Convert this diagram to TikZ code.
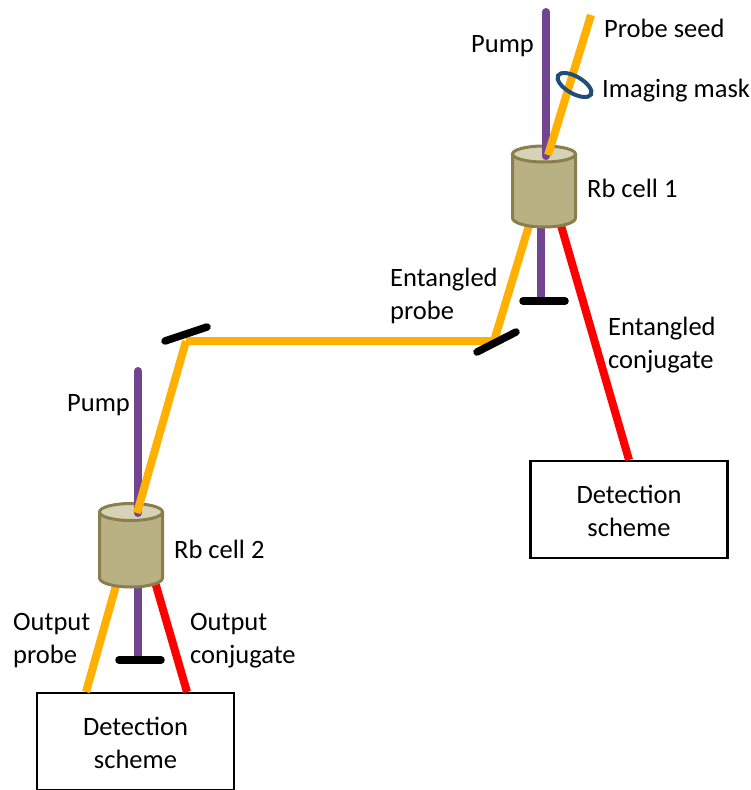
\documentclass[tikz,border=0pt]{standalone}
\usepackage{fontspec}
\setmainfont{Carlito}
\definecolor{pumpc}{HTML}{71458F}
\definecolor{probec}{HTML}{FFB000}
\definecolor{conjc}{HTML}{FF0000}
\definecolor{cellf}{HTML}{B9B083}
\definecolor{cellt}{HTML}{D6D2B6}
\definecolor{celld}{HTML}{8A7F4C}
\definecolor{maskc}{HTML}{1F4E79}
\tikzset{
 pumpbeam/.style={draw=pumpc,line width=8pt},
 probebeam/.style={draw=probec,line width=8pt},
 conjbeam/.style={draw=conjc,line width=8pt},
 mirror/.style={draw=black,line width=7.5pt,line cap=round},
 lab/.style={font=\fontsize{26.5}{33}\selectfont,inner sep=0pt,align=left,anchor=west},
 detbox/.style={draw=black,line width=2.2pt,fill=white,minimum width=197pt,minimum height=97pt,inner sep=0pt,align=center,font=\fontsize{26.5}{33}\selectfont},
 cellbody/.style={draw=celld,line width=3pt,fill=cellf,line join=round},
 celltop/.style={draw=celld,line width=3pt,fill=cellt},
}
\begin{document}
\begin{tikzpicture}[x=1pt,y=-1pt]
\useasboundingbox (0,0) rectangle (751,790);
% coordinates
\coordinate (p1a) at (546,12);
\coordinate (p1b) at (546,156);
\coordinate (s1a) at (591,15);
\coordinate (s1b) at (548,155);
\coordinate (p1c) at (541,222);
\coordinate (p1d) at (541,298);
\coordinate (m1a) at (523,301);
\coordinate (m1b) at (565,301);
\coordinate (e1a) at (530,222);
\coordinate (mm1) at (494,341);
\coordinate (c1a) at (560,222);
\coordinate (m2a) at (477,352);
\coordinate (m2b) at (516,332);
\coordinate (mm2) at (186,341);
\coordinate (m3a) at (165,341);
\coordinate (m3b) at (207,327);
\coordinate (p2a) at (138,371);
\coordinate (p2b) at (138,513);
\coordinate (s2b) at (137,513);
\coordinate (p2c) at (138,582);
\coordinate (p2d) at (138,658);
\coordinate (m4a) at (119,660);
\coordinate (m4b) at (161,660);
\coordinate (o2a) at (117,582);
\coordinate (c2a) at (155,582);
\coordinate (o2e) at (86,692);
\coordinate (c2e) at (187,692);
% boxes
\node[detbox] (box1) at (629,509.5) {\rule{0pt}{22pt}Detection\\scheme};
\node[detbox] (box2) at (135.5,741.5) {\rule{0pt}{22pt}Detection\\scheme};
% lower beams
\draw[probebeam] (e1a) -- (mm1);
\draw[pumpbeam] (p1c) -- (p1d);
\draw[conjbeam] (c1a) -- (box1.north);
\draw[probebeam] (o2a) -- (o2e);
\draw[pumpbeam] (p2c) -- (p2d);
\draw[conjbeam] (c2a) -- (c2e);
% cell 1
\draw[cellbody] (512.5,154) -- (512.5,218) arc[start angle=180,end angle=0,x radius=31.5,y radius=9] -- (575.5,154) -- cycle;
\draw[celltop] (544,154) ellipse[x radius=31.5,y radius=8];
% cell 2
\draw[cellbody] (99.5,512) -- (99.5,578) arc[start angle=180,end angle=0,x radius=31.5,y radius=9] -- (162.5,512) -- cycle;
\draw[celltop] (131,512) ellipse[x radius=31.5,y radius=8.5];
% upper beams
\draw[pumpbeam,line cap=round] (p1a) -- (p1b);
\draw[probebeam] (s1a) -- (s1b);
\draw[draw=maskc,line width=4pt] (574.5,85) ellipse[x radius=19,y radius=8.5,rotate=-30];
\draw[pumpbeam,line cap=round] (p2a) -- (p2b);
\draw[probebeam] (mm2) -- (s2b);
\draw[probebeam] (mm1) -- (mm2);
% mirrors
\draw[mirror] (m1a) -- (m1b);
\draw[mirror] (m2a) -- (m2b);
\draw[mirror] (m3a) -- (m3b);
\draw[mirror] (m4a) -- (m4b);
% labels
\node[lab] (l1) at (471,46) {Pump};
\node[lab] (l2) at (604,28) {Probe seed};
\node[lab] (l3) at (602,91) {Imaging mask};
\node[lab] (l4) at (587,188) {Rb cell 1};
\node[lab] (l5) at (390,296) {Entangled\\probe};
\node[lab] (l6) at (608,345) {Entangled\\conjugate};
\node[lab] (l7) at (67,405) {Pump};
\node[lab] (l8) at (174,549) {Rb cell 2};
\node[lab] (l9) at (13,641) {Output\\probe};
\node[lab] (l10) at (190,641) {Output\\conjugate};
\end{tikzpicture}
\end{document}
